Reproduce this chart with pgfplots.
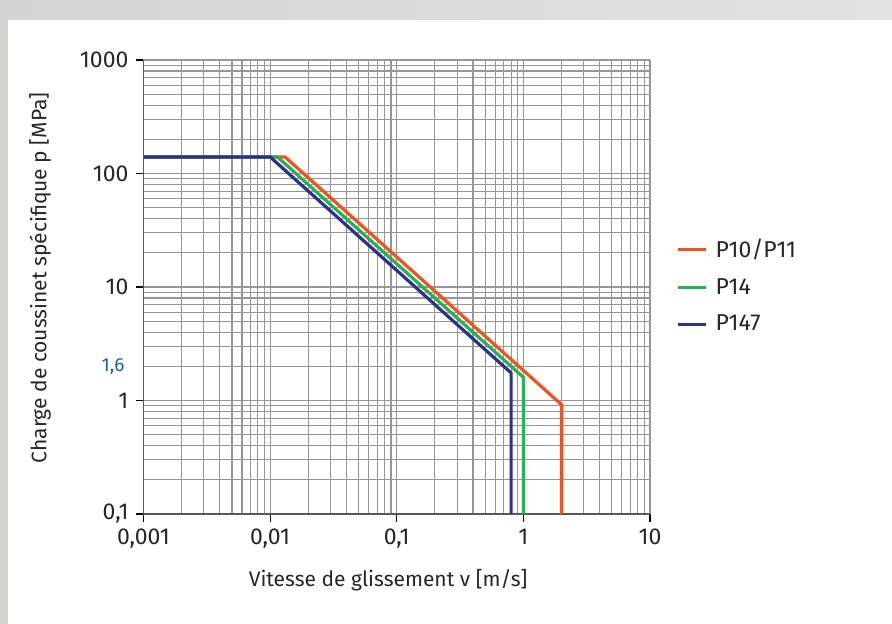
\documentclass[border=0pt]{standalone}
\usepackage{fontspec}
\setmainfont{Fira Sans}
\usepackage{pgfplots}
\pgfplotsset{compat=1.18}

\definecolor{bgL}{RGB}{212,213,208}
\definecolor{bgR}{RGB}{226,227,223}
\definecolor{cRed}{RGB}{240,82,36}
\definecolor{cGreen}{RGB}{40,178,76}
\definecolor{cBlue}{RGB}{44,50,140}
\definecolor{cLab}{RGB}{30,95,160}
\definecolor{gridc}{RGB}{150,150,150}

\begin{document}
\begin{tikzpicture}
% page background and white panel (1px = 0.5pt)
\shade[left color=bgL, right color=bgR] (-71.75pt,-55pt) rectangle (374.25pt,257pt);
\fill[white] (-67.75pt,-55pt) rectangle (374.25pt,247pt);
\useasboundingbox (-71.75pt,-55pt) rectangle (374.25pt,257pt);

\begin{axis}[
    at={(0pt,0pt)}, anchor=south west,
    scale only axis,
    width=253.25pt, height=227pt,
    xmode=log, ymode=log,
    xmin=0.001, xmax=10, ymin=0.1, ymax=1000,
    xtick={0.001,0.01,0.1,1,10},
    xticklabels={{0,001},{0,01},{0,1},1,10},
    ytick={0.1,1,10,100,1000},
    yticklabels={{0,1},1,10,100,1000},
    axis lines=left,
    axis line style={-, draw=black!65, line width=0.9pt},
    tick align=outside,
    major tick length=4pt,
    minor tick length=0pt,
    tick style={black, line width=0.6pt},
    grid=both,
    major grid style={draw=gridc, line width=0.55pt},
    minor grid style={draw=gridc, line width=0.55pt},
    ticklabel style={font=\fontsize{11.5}{13}\selectfont, text=black!85},
    xlabel={Vitesse de glissement v [m/s]},
    ylabel={Charge de coussinet spécifique p [MPa]},
    label style={font=\fontsize{10.5}{12}\selectfont, text=black!85},
    xlabel style={at={(axis description cs:0.483,-0.1586)}, anchor=base},
    ylabel style={at={(axis description cs:-0.2043,0.52)}, anchor=center, rotate=0},
    legend style={at={(axis description cs:1.04,0.625)}, anchor=north west,
        draw=none, fill=none, font=\fontsize{11.5}{13}\selectfont,
        row sep=5pt, text=black!85},
    legend cell align=left,
    legend image code/.code={\draw[#1, line width=1.5pt] (0pt,0pt) -- (14pt,0pt);},
    legend style={nodes={inner xsep=4pt}},
    clip=false,
]
\addplot[cRed, line width=1.6pt] coordinates {
    (0.001,140) (0.0131,140) (2,0.92) (2,0.1)
};
\addlegendentry{P10/P11}
\addplot[cGreen, line width=1.6pt] coordinates {
    (0.001,140) (0.0114,140) (1,1.6) (1,0.1)
};
\addlegendentry{P14}
\addplot[cBlue, line width=1.6pt] coordinates {
    (0.001,140) (0.01,140) (0.8,1.75) (0.8,0.1)
};
\addlegendentry{P147}
\node[anchor=east, text=cLab, font=\fontsize{9.5}{11}\selectfont]
    at (rel axis cs:0,0.3238) [xshift=-6pt] {1,6};
\end{axis}
\end{tikzpicture}
\end{document}
